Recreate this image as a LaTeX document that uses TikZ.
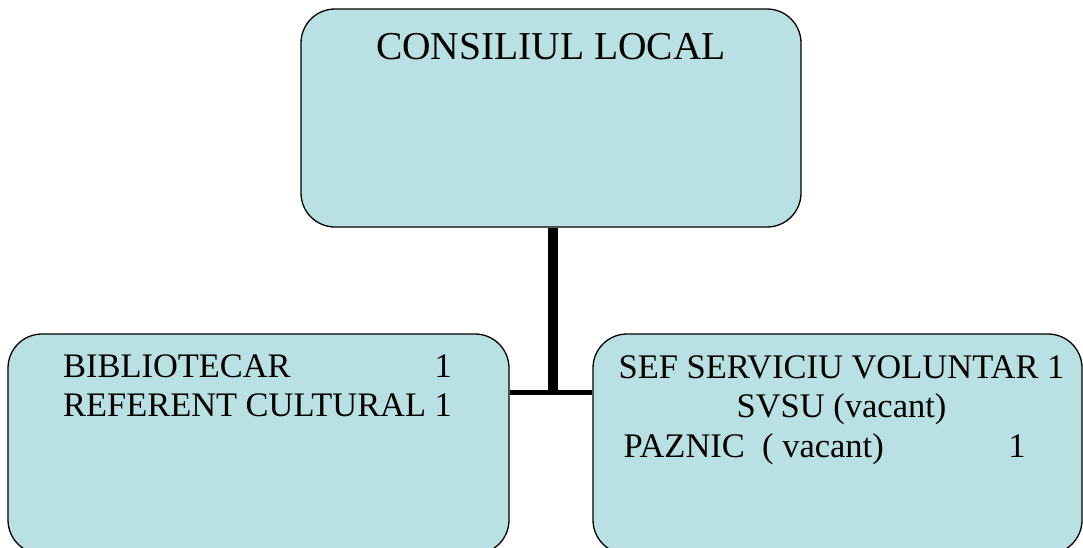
\documentclass[tikz,border=0pt]{standalone}
\usepackage{fontspec}
\setmainfont{Liberation Serif}
\definecolor{boxfill}{RGB}{185,224,227}
\begin{document}
\begin{tikzpicture}[x=1pt,y=-1pt,
  orgbox/.style={draw=black,line width=1.3pt,fill=boxfill,rounded corners=34pt,inner sep=0pt},
  label/.style={inner sep=0pt,text=black},
  link/.style={draw=black,line cap=butt}]
\useasboundingbox (0,0) rectangle (1083,547);
\clip (0,0) rectangle (1083,547);
\fill[white] (0,0) rectangle (1083,547);
% boxes
\node[orgbox,minimum width=500pt,minimum height=218pt] (top) at (551,118) {};
\node[orgbox,minimum width=501pt,minimum height=220pt] (left) at (258.5,444) {};
\node[orgbox,minimum width=489pt,minimum height=220pt] (right) at (837.5,444) {};
% connectors
\coordinate (j) at (553,392.5);
\coordinate (jb) at (553,395);
\draw[link,line width=10pt] (top.south -| j) -- (jb);
\draw[link,line width=5pt] (left.east |- j) -- (right.west |- j);
% texts
\node[label,anchor=base,font=\fontsize{39.5}{45}\selectfont] (toptext) at (551,59) {CONSILIUL LOCAL};
\node[label,anchor=base west,font=\fontsize{34.4}{39}\selectfont] (lefttext) at (63,377)
  {\begin{tabular}[t]{@{}l@{ }r@{}}BIBLIOTECAR & 1\\REFERENT CULTURAL & 1\end{tabular}};
\node[label,anchor=base,font=\fontsize{34.5}{39.5}\selectfont] (righttext) at (841.5,378)
  {\begin{tabular}[t]{@{}c@{}}SEF SERVICIU VOLUNTAR 1\\SVSU (vacant)\\\makebox[402pt][l]{PAZNIC\ \ ( vacant)\hfill 1}\rule{34pt}{0pt}\end{tabular}};
\end{tikzpicture}
\end{document}
